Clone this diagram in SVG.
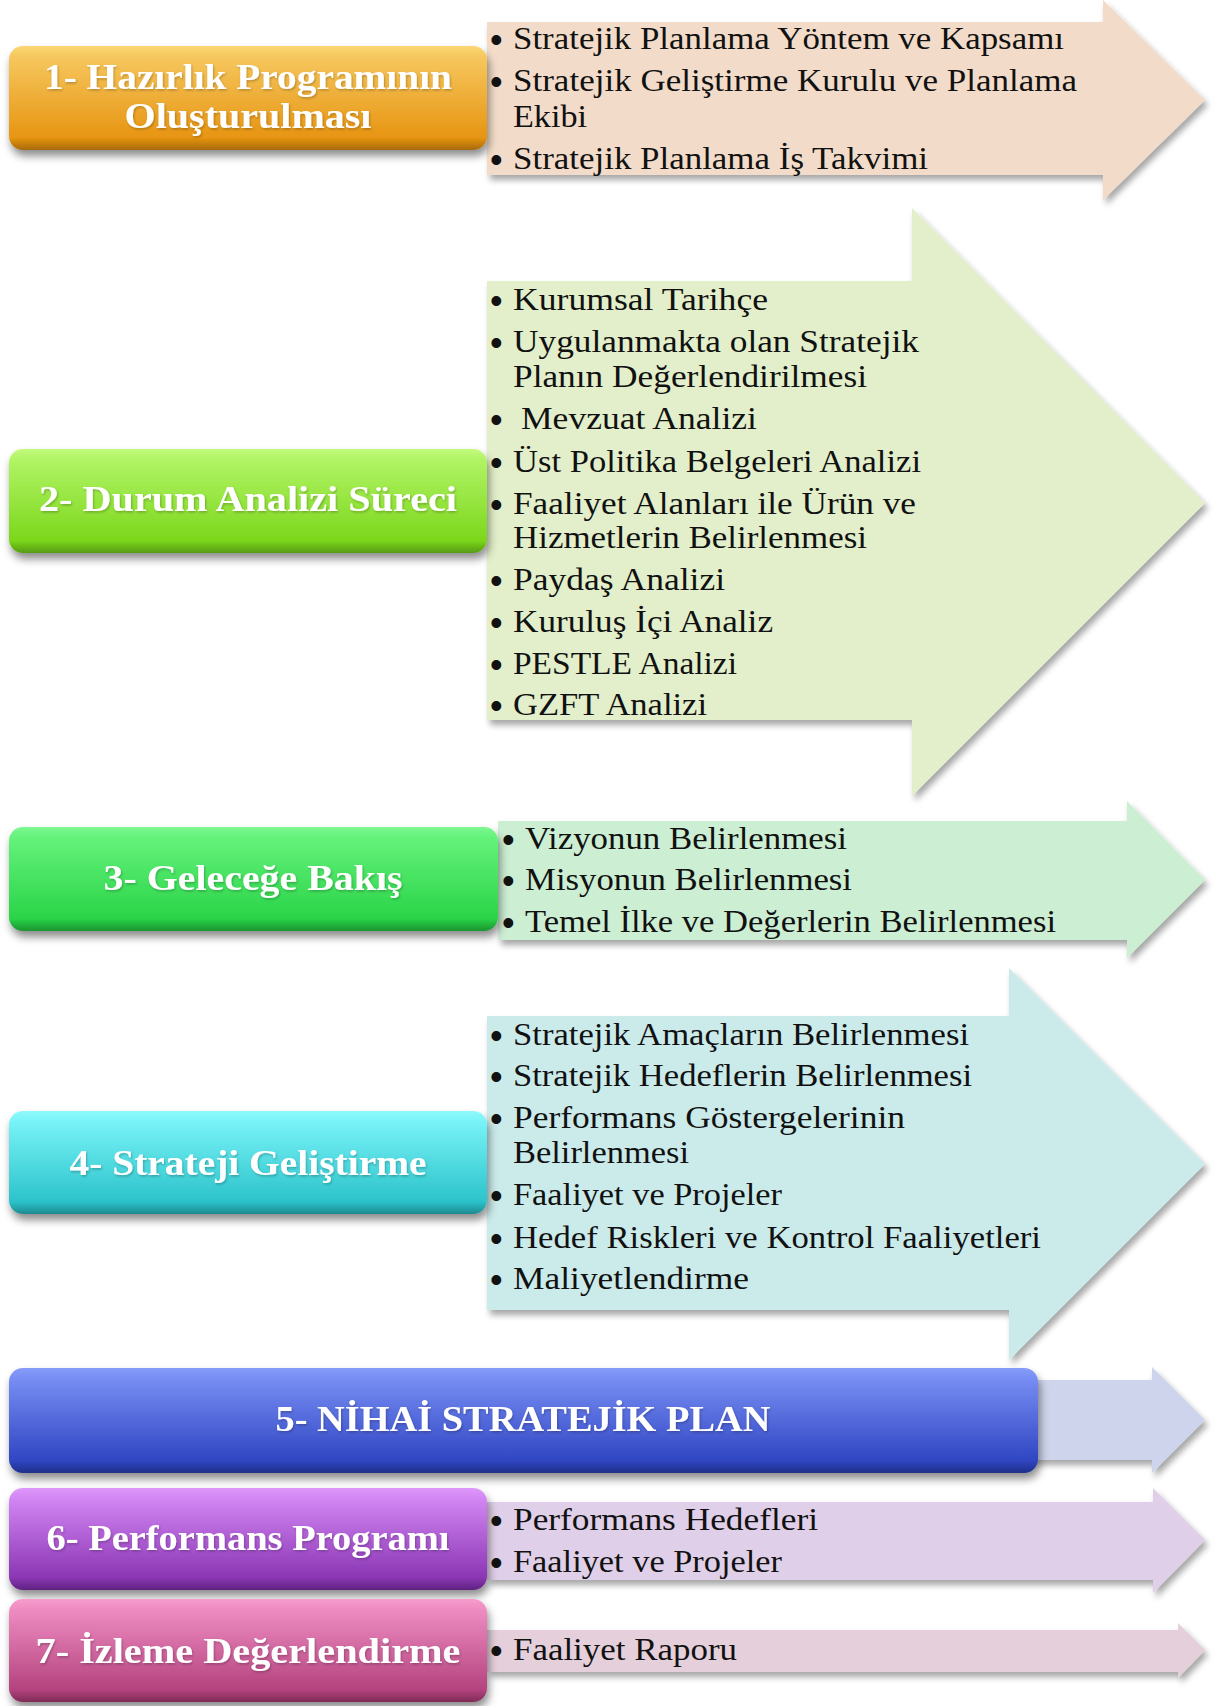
<svg xmlns="http://www.w3.org/2000/svg" width="1215" height="1706" viewBox="0 0 1215 1706">
<defs>
<style>
.hd{font-family:"Liberation Serif","DejaVu Serif",serif;font-weight:bold;fill:#fff;font-size:36px;text-anchor:middle;filter:url(#tsh)}
.bl{font-family:"Liberation Serif","DejaVu Serif",serif;font-size:32px;fill:#111}
.bu{font-family:"Liberation Sans","DejaVu Sans",sans-serif;font-size:36px;fill:#111}
.arr{filter:url(#ash)}
.box{filter:url(#bsh)}
</style>
<filter id="ash" x="-5%" y="-10%" width="115%" height="130%">
<feDropShadow dx="3" dy="5" stdDeviation="3" flood-color="#000" flood-opacity="0.35"/>
</filter>
<filter id="bsh" x="-5%" y="-15%" width="115%" height="140%">
<feDropShadow dx="2" dy="6" stdDeviation="4" flood-color="#000" flood-opacity="0.45"/>
</filter>
<filter id="tsh" x="-5%" y="-20%" width="110%" height="150%">
<feDropShadow dx="1" dy="1.5" stdDeviation="1" flood-color="#000" flood-opacity="0.25"/>
</filter>
<linearGradient id="g1" x1="0" y1="0" x2="0" y2="1"><stop offset="0" stop-color="#FBD872"/><stop offset="0.1" stop-color="#F6C75E"/><stop offset="0.88" stop-color="#E79512"/><stop offset="1" stop-color="#A86A08"/></linearGradient>
<linearGradient id="g2" x1="0" y1="0" x2="0" y2="1"><stop offset="0" stop-color="#C2FA7C"/><stop offset="0.1" stop-color="#B1F465"/><stop offset="0.88" stop-color="#7CD71C"/><stop offset="1" stop-color="#569A12"/></linearGradient>
<linearGradient id="g3" x1="0" y1="0" x2="0" y2="1"><stop offset="0" stop-color="#7DF890"/><stop offset="0.1" stop-color="#64F27B"/><stop offset="0.88" stop-color="#2AD448"/><stop offset="1" stop-color="#1B9430"/></linearGradient>
<linearGradient id="g4" x1="0" y1="0" x2="0" y2="1"><stop offset="0" stop-color="#8FFAFC"/><stop offset="0.1" stop-color="#78F3F7"/><stop offset="0.88" stop-color="#2CC3CB"/><stop offset="1" stop-color="#1E8A90"/></linearGradient>
<linearGradient id="g5" x1="0" y1="0" x2="0" y2="1"><stop offset="0" stop-color="#879CF8"/><stop offset="0.1" stop-color="#778DF3"/><stop offset="0.88" stop-color="#3046C3"/><stop offset="1" stop-color="#1F2F88"/></linearGradient>
<linearGradient id="g6" x1="0" y1="0" x2="0" y2="1"><stop offset="0" stop-color="#DE98FA"/><stop offset="0.1" stop-color="#D286F3"/><stop offset="0.88" stop-color="#8B36B4"/><stop offset="1" stop-color="#5E2380"/></linearGradient>
<linearGradient id="g7" x1="0" y1="0" x2="0" y2="1"><stop offset="0" stop-color="#F79CCC"/><stop offset="0.1" stop-color="#EE8CC2"/><stop offset="0.88" stop-color="#B4437E"/><stop offset="1" stop-color="#7E2B56"/></linearGradient>
</defs>
<rect width="1215" height="1706" fill="#fff"/>

<g id="connectors"></g>

<g id="step1">
<polygon class="arr" points="487,22 1103,22 1103,0 1205,100 1103,200 1103,175 487,175" fill="#F2DCC9"/>
<rect class="box" x="9" y="46" width="478" height="104" rx="14" fill="url(#g1)"/>
<text class="hd" x="248" y="89" textLength="408" lengthAdjust="spacingAndGlyphs">1- Hazırlık Programının</text>
<text class="hd" x="248" y="128" textLength="247" lengthAdjust="spacingAndGlyphs">Oluşturulması</text>
<text class="bu" x="490" y="52">•</text><text class="bl" x="513" y="49" textLength="551" lengthAdjust="spacingAndGlyphs">Stratejik Planlama Yöntem ve Kapsamı</text>
<text class="bu" x="490" y="94">•</text><text class="bl" x="513" y="91" textLength="564" lengthAdjust="spacingAndGlyphs">Stratejik Geliştirme Kurulu ve Planlama</text>
<text class="bl" x="513" y="127" textLength="74" lengthAdjust="spacingAndGlyphs">Ekibi</text>
<text class="bu" x="490" y="172">•</text><text class="bl" x="513" y="169" textLength="415" lengthAdjust="spacingAndGlyphs">Stratejik Planlama İş Takvimi</text>
</g>

<g id="step2">
<polygon class="arr" points="487,281 912,281 912,208 1205,503 912,796 912,720 487,720" fill="#E2EFCA"/>
<rect class="box" x="9" y="449" width="478" height="104" rx="14" fill="url(#g2)"/>
<text class="hd" x="248" y="511" textLength="418" lengthAdjust="spacingAndGlyphs">2- Durum Analizi Süreci</text>
<text class="bu" x="490" y="313">•</text><text class="bl" x="513" y="310" textLength="255" lengthAdjust="spacingAndGlyphs">Kurumsal Tarihçe</text>
<text class="bu" x="490" y="355">•</text><text class="bl" x="513" y="352" textLength="406" lengthAdjust="spacingAndGlyphs">Uygulanmakta olan Stratejik</text>
<text class="bl" x="513" y="387" textLength="354" lengthAdjust="spacingAndGlyphs">Planın Değerlendirilmesi</text>
<text class="bu" x="490" y="432">•</text><text class="bl" x="521" y="429" textLength="236" lengthAdjust="spacingAndGlyphs">Mevzuat Analizi</text>
<text class="bu" x="490" y="475">•</text><text class="bl" x="513" y="472" textLength="408" lengthAdjust="spacingAndGlyphs">Üst Politika Belgeleri Analizi</text>
<text class="bu" x="490" y="517">•</text><text class="bl" x="513" y="514" textLength="403" lengthAdjust="spacingAndGlyphs">Faaliyet Alanları ile Ürün ve</text>
<text class="bl" x="513" y="548" textLength="354" lengthAdjust="spacingAndGlyphs">Hizmetlerin Belirlenmesi</text>
<text class="bu" x="490" y="593">•</text><text class="bl" x="513" y="590" textLength="212" lengthAdjust="spacingAndGlyphs">Paydaş Analizi</text>
<text class="bu" x="490" y="635">•</text><text class="bl" x="513" y="632" textLength="260" lengthAdjust="spacingAndGlyphs">Kuruluş İçi Analiz</text>
<text class="bu" x="490" y="677">•</text><text class="bl" x="513" y="674" textLength="224" lengthAdjust="spacingAndGlyphs">PESTLE Analizi</text>
<text class="bu" x="490" y="718">•</text><text class="bl" x="513" y="715" textLength="194" lengthAdjust="spacingAndGlyphs">GZFT Analizi</text>
</g>

<g id="step3">
<polygon class="arr" points="498,821 1127,821 1127,801 1205,880 1127,958 1127,940 498,940" fill="#CCEED3"/>
<rect class="box" x="9" y="827" width="489" height="104" rx="14" fill="url(#g3)"/>
<text class="hd" x="253" y="890" textLength="299" lengthAdjust="spacingAndGlyphs">3- Geleceğe Bakış</text>
<text class="bu" x="502" y="852">•</text><text class="bl" x="525" y="849" textLength="322" lengthAdjust="spacingAndGlyphs">Vizyonun Belirlenmesi</text>
<text class="bu" x="502" y="893">•</text><text class="bl" x="525" y="890" textLength="327" lengthAdjust="spacingAndGlyphs">Misyonun Belirlenmesi</text>
<text class="bu" x="502" y="935">•</text><text class="bl" x="525" y="932" textLength="531" lengthAdjust="spacingAndGlyphs">Temel İlke ve Değerlerin Belirlenmesi</text>
</g>

<g id="step4">
<polygon class="arr" points="487,1016 1009,1016 1009,968 1205,1164 1009,1360 1009,1310 487,1310" fill="#CBEAEA"/>
<rect class="box" x="9" y="1111" width="478" height="103" rx="14" fill="url(#g4)"/>
<text class="hd" x="248" y="1175" textLength="357" lengthAdjust="spacingAndGlyphs">4- Strateji Geliştirme</text>
<text class="bu" x="490" y="1048">•</text><text class="bl" x="513" y="1045" textLength="456" lengthAdjust="spacingAndGlyphs">Stratejik Amaçların Belirlenmesi</text>
<text class="bu" x="490" y="1089">•</text><text class="bl" x="513" y="1086" textLength="459" lengthAdjust="spacingAndGlyphs">Stratejik Hedeflerin Belirlenmesi</text>
<text class="bu" x="490" y="1131">•</text><text class="bl" x="513" y="1128" textLength="392" lengthAdjust="spacingAndGlyphs">Performans Göstergelerinin</text>
<text class="bl" x="513" y="1163" textLength="176" lengthAdjust="spacingAndGlyphs">Belirlenmesi</text>
<text class="bu" x="490" y="1208">•</text><text class="bl" x="513" y="1205" textLength="269" lengthAdjust="spacingAndGlyphs">Faaliyet ve Projeler</text>
<text class="bu" x="490" y="1251">•</text><text class="bl" x="513" y="1248" textLength="528" lengthAdjust="spacingAndGlyphs">Hedef Riskleri ve Kontrol Faaliyetleri</text>
<text class="bu" x="490" y="1292">•</text><text class="bl" x="513" y="1289" textLength="236" lengthAdjust="spacingAndGlyphs">Maliyetlendirme</text>
</g>

<g id="step5">
<polygon class="arr" points="1030,1380 1152,1380 1152,1367 1205,1420 1152,1473 1152,1460 1030,1460" fill="#CED4EB"/>
<rect class="box" x="9" y="1368" width="1029" height="105" rx="14" fill="url(#g5)"/>
<text class="hd" x="523" y="1431" textLength="495" lengthAdjust="spacingAndGlyphs">5- NİHAİ STRATEJİK PLAN</text>
</g>

<g id="step6">
<polygon class="arr" points="487,1502 1153,1502 1153,1488 1205,1540 1153,1593 1153,1580 487,1580" fill="#E0CFE8"/>
<rect class="box" x="9" y="1488" width="478" height="102" rx="14" fill="url(#g6)"/>
<text class="hd" x="248" y="1550" textLength="403" lengthAdjust="spacingAndGlyphs">6- Performans Programı</text>
<text class="bu" x="490" y="1533">•</text><text class="bl" x="513" y="1530" textLength="305" lengthAdjust="spacingAndGlyphs">Performans Hedefleri</text>
<text class="bu" x="490" y="1575">•</text><text class="bl" x="513" y="1572" textLength="269" lengthAdjust="spacingAndGlyphs">Faaliyet ve Projeler</text>
</g>

<g id="step7">
<polygon class="arr" points="487,1630 1178,1630 1178,1623 1205,1650 1178,1678 1178,1672 487,1672" fill="#E5CFDB"/>
<rect class="box" x="9" y="1599" width="478" height="103" rx="14" fill="url(#g7)"/>
<text class="hd" x="248" y="1663" textLength="425" lengthAdjust="spacingAndGlyphs">7- İzleme Değerlendirme</text>
<text class="bu" x="490" y="1663">•</text><text class="bl" x="513" y="1660" textLength="224" lengthAdjust="spacingAndGlyphs">Faaliyet Raporu</text>
</g>
</svg>
